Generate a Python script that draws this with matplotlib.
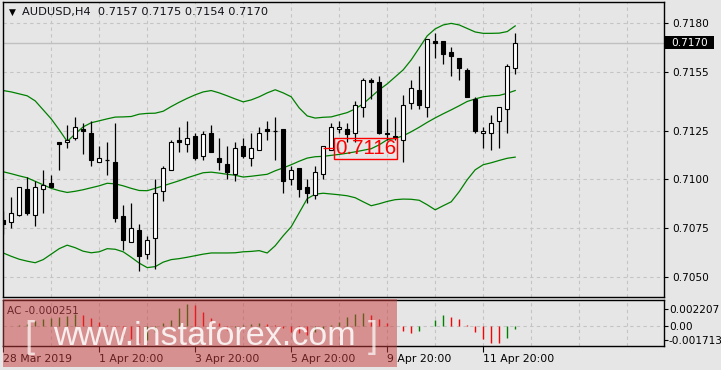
import matplotlib
matplotlib.use("Agg")
import matplotlib.pyplot as plt
import matplotlib.transforms as mtransforms
from matplotlib.patches import Rectangle

# ===== Chart data =============================================================

# AUDUSD H4 candles, bar 0 = 28 Mar 2019
opens = [0.7079, 0.7078, 0.7082, 0.7095, 0.7082, 0.7095, 0.7098, 0.7119, 0.7119, 0.7121,
         0.7126, 0.7124, 0.7109, 0.7110, 0.7109, 0.7081, 0.7068, 0.7074, 0.7062, 0.7070,
         0.7094, 0.7105, 0.7120, 0.7118, 0.7122, 0.7112, 0.7124, 0.7111, 0.7108, 0.7103,
         0.7117, 0.7111, 0.7115, 0.7126, 0.7125, 0.7126, 0.7100, 0.7106, 0.7096, 0.7092,
         0.7103, 0.7115, 0.7126, 0.7126, 0.7124, 0.7137, 0.7151, 0.7150, 0.7124, 0.7122,
         0.7120, 0.7139, 0.7146, 0.7137, 0.7171, 0.7171, 0.7165, 0.7162, 0.7156, 0.7141,
         0.7124, 0.7124, 0.7130, 0.7136, 0.7157]
highs = [0.7084, 0.7091, 0.7096, 0.7101, 0.7099, 0.7105, 0.7102, 0.7119, 0.7128, 0.7132,
         0.7129, 0.7130, 0.7117, 0.7119, 0.7129, 0.7087, 0.7088, 0.7077, 0.7071, 0.7100,
         0.7107, 0.7120, 0.7127, 0.7130, 0.7124, 0.7125, 0.7128, 0.7121, 0.7117, 0.7119,
         0.7121, 0.7124, 0.7127, 0.7130, 0.7132, 0.7126, 0.7107, 0.7106, 0.7100, 0.7107,
         0.7117, 0.7129, 0.7130, 0.7129, 0.7140, 0.7152, 0.7152, 0.7153, 0.7131, 0.7132,
         0.7143, 0.7151, 0.7158, 0.7172, 0.7175, 0.7171, 0.7168, 0.7162, 0.7157, 0.7142,
         0.7127, 0.7133, 0.7137, 0.7159, 0.7175]
lows = [0.7072, 0.7075, 0.7081, 0.7082, 0.7076, 0.7083, 0.7096, 0.7105, 0.7116, 0.7120,
        0.7113, 0.7107, 0.7109, 0.7102, 0.7078, 0.7064, 0.7068, 0.7053, 0.7059, 0.7054,
        0.7089, 0.7105, 0.7114, 0.7114, 0.7110, 0.7110, 0.7114, 0.7105, 0.7100, 0.7099,
        0.7111, 0.7107, 0.7115, 0.7120, 0.7110, 0.7093, 0.7097, 0.7091, 0.7088, 0.7090,
        0.7100, 0.7115, 0.7124, 0.7119, 0.7119, 0.7132, 0.7141, 0.7123, 0.7120, 0.7120,
        0.7109, 0.7136, 0.7136, 0.7132, 0.7162, 0.7159, 0.7153, 0.7151, 0.7142, 0.7124,
        0.7116, 0.7115, 0.7116, 0.7124, 0.7154]
closes = [0.7077, 0.7083, 0.7096, 0.7083, 0.7096, 0.7097, 0.7096, 0.7118, 0.7120, 0.7127,
          0.7125, 0.7110, 0.7111, 0.7110, 0.7080, 0.7069, 0.7075, 0.7061, 0.7069, 0.7093,
          0.7106, 0.7119, 0.7119, 0.7121, 0.7111, 0.7123, 0.7114, 0.7109, 0.7104, 0.7116,
          0.7112, 0.7116, 0.7124, 0.7125, 0.7125, 0.7099, 0.7105, 0.7095, 0.7093, 0.7104,
          0.7117, 0.7127, 0.7127, 0.7123, 0.7138, 0.7151, 0.7150, 0.7124, 0.7123, 0.7121,
          0.7138, 0.7147, 0.7138, 0.7172, 0.7170, 0.7164, 0.7163, 0.7157, 0.7142, 0.7125,
          0.7125, 0.7129, 0.7137, 0.7158, 0.7170]

# Bollinger bands
bbUpper = [0.71455, 0.71448, 0.71438, 0.71428, 0.71402, 0.71356, 0.71310, 0.71254, 0.71194, 0.71233,
           0.71269, 0.71290, 0.71300, 0.71310, 0.71319, 0.71320, 0.71322, 0.71334, 0.71338, 0.71339,
           0.71349, 0.71373, 0.71395, 0.71415, 0.71433, 0.71448, 0.71455, 0.71443, 0.71428, 0.71412,
           0.71397, 0.71407, 0.71423, 0.71443, 0.71459, 0.71443, 0.71423, 0.71366, 0.71325, 0.71314,
           0.71318, 0.71320, 0.71331, 0.71342, 0.71361, 0.71387, 0.71423, 0.71459, 0.71489, 0.71525,
           0.71561, 0.71612, 0.71673, 0.71735, 0.71771, 0.71791, 0.71799, 0.71791, 0.71773, 0.71755,
           0.71748, 0.71748, 0.71749, 0.71757, 0.71786]
bbMiddle = [0.71039, 0.71029, 0.71018, 0.71008, 0.70990, 0.70972, 0.70954, 0.70942, 0.70933, 0.70939,
            0.70947, 0.70957, 0.70967, 0.70980, 0.70977, 0.70967, 0.70954, 0.70943, 0.70942, 0.70954,
            0.70967, 0.70980, 0.70993, 0.71008, 0.71021, 0.71034, 0.71037, 0.71032, 0.71026, 0.71021,
            0.71012, 0.71016, 0.71021, 0.71026, 0.71044, 0.71059, 0.71075, 0.71093, 0.71109, 0.71116,
            0.71118, 0.71123, 0.71128, 0.71134, 0.71141, 0.71149, 0.71157, 0.71177, 0.71203, 0.71210,
            0.71223, 0.71244, 0.71267, 0.71292, 0.71315, 0.71336, 0.71356, 0.71377, 0.71399, 0.71412,
            0.71423, 0.71428, 0.71430, 0.71441, 0.71455]
bbLower = [0.70623, 0.70606, 0.70591, 0.70581, 0.70573, 0.70589, 0.70617, 0.70645, 0.70663, 0.70650,
           0.70632, 0.70624, 0.70629, 0.70645, 0.70642, 0.70629, 0.70601, 0.70571, 0.70548, 0.70553,
           0.70576, 0.70589, 0.70594, 0.70601, 0.70609, 0.70617, 0.70623, 0.70623, 0.70623, 0.70624,
           0.70629, 0.70631, 0.70635, 0.70623, 0.70660, 0.70711, 0.70757, 0.70829, 0.70901, 0.70924,
           0.70929, 0.70925, 0.70921, 0.70916, 0.70906, 0.70885, 0.70865, 0.70875, 0.70887, 0.70896,
           0.70899, 0.70898, 0.70893, 0.70870, 0.70844, 0.70865, 0.70885, 0.70937, 0.70998, 0.71049,
           0.71075, 0.71085, 0.71097, 0.71108, 0.71114]

# Accelerator oscillator histogram
acValues = [0.00005, 0.00003, 0.00010, 0.00020, 0.00063, 0.00084, 0.00097, 0.00110, 0.00127, 0.00152,
            0.00139, 0.00097, 0.00055, 0.00010, -0.00072, -0.00135, -0.00169, -0.00219, -0.00177, -0.00072,
            0.00034, 0.00076, 0.00224, 0.00278, 0.00266, 0.00181, 0.00097, 0.00034, -0.00051, -0.00017,
            0.00013, 0.00025, 0.00040, 0.00030, 0.00010, -0.00030, -0.00072, -0.00090, -0.00110, -0.00080,
            -0.00040, 0.00010, 0.00055, 0.00110, 0.00150, 0.00169, 0.00139, 0.00084, 0.00042, 0.00005,
            -0.00059, -0.00084, -0.00059, 0.00005, 0.00076, 0.00139, 0.00118, 0.00089, 0.00013, -0.00072,
            -0.00165, -0.00211, -0.00213, -0.00156, -0.00038]
acColors = ["r", "r", "g", "g", "g", "g", "g", "g", "g", "g",
            "r", "r", "r", "r", "r", "r", "r", "r", "g", "g",
            "g", "g", "g", "g", "r", "r", "r", "r", "r", "g",
            "g", "g", "g", "r", "r", "r", "r", "r", "r", "g",
            "g", "g", "g", "g", "g", "g", "r", "r", "r", "r",
            "r", "r", "g", "g", "g", "g", "r", "r", "r", "r",
            "r", "r", "r", "g", "g"]

priceTicks = [0.7050, 0.7075, 0.7100, 0.7125, 0.7155, 0.7180]
acTicks = [0.002207, 0.0, -0.001713]
acTickLabels = ["0.002207", "0.00", "-0.001713"]
timeTickBars = [0, 12, 24, 36, 48, 60]
timeLabels = ["28 Mar 2019", "1 Apr 20:00", "3 Apr 20:00", "5 Apr 20:00",
              "9 Apr 20:00", "11 Apr 20:00"]

header = "AUDUSD,H4  0.7157 0.7175 0.7154 0.7170"
acLabel = "AC -0.000251"
lastPrice = 0.7170
markPrice = 0.7116
markBar = 40

# ===== Styling ================================================================

bgColor = "#E6E6E6"
gridColor = "#C4C4C4"
bandColor = "#008000"
W, H = 721, 370

fig = plt.figure(figsize=(W / 100, H / 100), dpi=100, facecolor=bgColor)
axMain = fig.add_axes([3 / W, (H - 296.7) / H, 661 / W, 294.4 / H])
axAc = fig.add_axes([3 / W, (H - 345.7) / H, 661 / W, 45.7 / H])

for ax in (axMain, axAc):
    ax.set_facecolor(bgColor)
    ax.set_xlim(-0.025, 82.6)
    for s in ax.spines.values():
        s.set_color("black")
        s.set_linewidth(1.0)
    for b in range(0, 84, 6):
        ax.axvline(b, color=gridColor, lw=0.8, ls=(0, (3, 3)), zorder=0)
    ax.yaxis.tick_right()
    ax.tick_params(axis="y", direction="out", length=3, width=0.8, pad=3,
                   labelsize=7.6, colors="black")

# ----- main price panel
axMain.set_ylim(0.70399, 0.71907)
axMain.set_xticks([])
axMain.set_yticks(priceTicks)
axMain.set_yticklabels([f"{p:.4f}" for p in priceTicks])
for p in priceTicks:
    axMain.axhline(p, color=gridColor, lw=0.8, ls=(0, (3, 3)), zorder=0)
axMain.axhline(lastPrice, color="#C0C0C0", lw=1.0, zorder=0)

bars = range(len(opens))
axMain.plot(bars, bbUpper, color=bandColor, lw=0.9, zorder=2)
axMain.plot(bars, bbMiddle, color=bandColor, lw=0.9, zorder=2)
axMain.plot(bars, bbLower, color=bandColor, lw=0.9, zorder=2)

bodyW = 0.5
for i in bars:
    o, h, l, c = opens[i], highs[i], lows[i], closes[i]
    axMain.vlines(i, l, h, color="black", lw=0.9, zorder=3)
    if o == c:
        axMain.hlines(o, i - bodyW / 2, i + bodyW / 2, color="black", lw=0.9, zorder=4)
    else:
        face = "white" if c > o else "black"
        axMain.add_patch(Rectangle((i - bodyW / 2, min(o, c)), bodyW, abs(c - o),
                                   facecolor=face, edgecolor="black", lw=0.8, zorder=4))

# header
axMain.text(0.0095, 0.966, "\u25BC", transform=axMain.transAxes, fontsize=6.5,
            va="center", ha="left", color="black")
axMain.text(0.0283, 0.966, header, transform=axMain.transAxes, fontsize=8.2,
            va="center", ha="left", color="#101018")

# last price box on the right axis
blend = mtransforms.blended_transform_factory(axMain.transAxes, axMain.transData)
axMain.add_patch(Rectangle((1.0015, lastPrice - 0.00034), 0.0745, 0.00068,
                           transform=blend, facecolor="black", edgecolor="none",
                           clip_on=False, zorder=5))
axMain.text(1.011, lastPrice, f"{lastPrice:.4f}", transform=blend, fontsize=7.6,
            color="white", va="center", ha="left", zorder=6)

# red price label
axMain.hlines(markPrice, markBar, markBar + 1.4, color="red", lw=1.0, zorder=5)
axMain.text(markBar + 1.45, markPrice, f"{markPrice:.4f}", color="red",
            fontsize=14.8, family=["Liberation Sans", "DejaVu Sans"],
            va="center", ha="left", zorder=6,
            bbox=dict(boxstyle="square,pad=0.05", facecolor="none",
                      edgecolor="red", lw=1.0))

# ----- AC panel
axAc.set_ylim(-0.00249, 0.00329)
axAc.axhline(0, color=gridColor, lw=0.8, ls=(0, (3, 3)), zorder=0)
axAc.vlines(list(bars), 0, acValues,
            colors=["#FF0000" if c == "r" else "#008000" for c in acColors],
            lw=1.0, zorder=3)
axAc.set_yticks(acTicks)
axAc.set_yticklabels(acTickLabels)
axAc.tick_params(axis="y", length=3, pad=0.5)
axAc.set_xticks(timeTickBars)
axAc.set_xticklabels(timeLabels, ha="left")
axAc.tick_params(axis="x", direction="out", length=4, width=0.8, pad=2,
                 labelsize=7.8, colors="black")
axAc.text(0.0065, 0.77, acLabel, transform=axAc.transAxes, fontsize=7.6,
          va="center", ha="left", color="#101018")

# ----- watermark overlay
fig.add_artist(Rectangle((3 / W, (H - 367) / H), 394 / W, 68 / H,
                         transform=fig.transFigure, facecolor="#C83C3C",
                         edgecolor="none", alpha=0.5, zorder=10))
wmFont = ["Liberation Sans Narrow", "Liberation Sans", "DejaVu Sans"]
fig.text(53 / W, (H - 345) / H, "www.instaforex.com", color="white", alpha=0.85,
         fontsize=24.5, family=wmFont, va="baseline", ha="left", zorder=11)
fig.text(24 / W, (H - 347) / H, "[", color="white", alpha=0.7,
         fontsize=26, family=wmFont, va="baseline", ha="left", zorder=11)
fig.text(368 / W, (H - 347) / H, "]", color="white", alpha=0.7,
         fontsize=26, family=wmFont, va="baseline", ha="left", zorder=11)

fig.savefig("out.png", dpi=100, facecolor=bgColor)
